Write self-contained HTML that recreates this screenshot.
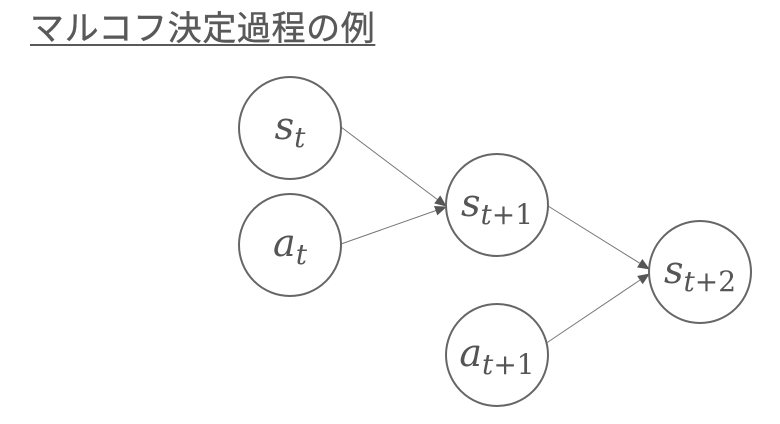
<!DOCTYPE html>
<html><head><meta charset="utf-8"><style>
html,body{margin:0;padding:0;background:#fff;}
body{width:780px;height:424px;overflow:hidden;position:relative;}
.t{position:absolute;left:30px;top:1px;font-family:"Liberation Sans","Noto Sans CJK JP",sans-serif;font-size:34px;color:#595959;text-decoration:underline;text-decoration-thickness:2px;text-underline-offset:4px;letter-spacing:0.6px;white-space:nowrap;-webkit-text-stroke:0.4px #595959;}
svg{position:absolute;left:0;top:0;}
text{font-family:"DejaVu Serif",serif;font-style:italic;fill:#555;text-anchor:middle;}
</style></head><body>
<div class="t">マルコフ決定過程の例</div>
<svg width="780" height="424" viewBox="0 0 780 424">
<defs><marker id="a" markerWidth="12" markerHeight="10" refX="11" refY="5" orient="auto" markerUnits="userSpaceOnUse"><path d="M0,0 L12,5 L0,10 z" fill="#555"/></marker></defs>
<g stroke="#777" stroke-width="1" fill="none">
<line x1="341" y1="127" x2="446" y2="206" marker-end="url(#a)"/>
<line x1="341" y1="244" x2="446" y2="207" marker-end="url(#a)"/>
<line x1="548" y1="206" x2="649" y2="269" marker-end="url(#a)"/>
<line x1="545" y1="344" x2="649" y2="274" marker-end="url(#a)"/>
</g>
<g stroke="#666" stroke-width="2" fill="#fff">
<circle cx="290" cy="128" r="51"/>
<circle cx="290" cy="245" r="51"/>
<circle cx="497" cy="205" r="51"/>
<circle cx="497" cy="355" r="51"/>
<circle cx="700" cy="272" r="51"/>
</g>
<text x="290" y="139" font-size="38">s<tspan font-size="28" dy="8">t</tspan></text>
<text x="290" y="256" font-size="38">a<tspan font-size="28" dy="8">t</tspan></text>
<text x="497" y="216" font-size="38">s<tspan font-size="28" dy="8">t</tspan><tspan font-size="28" font-style="normal">+1</tspan></text>
<text x="497" y="366" font-size="38">a<tspan font-size="28" dy="8">t</tspan><tspan font-size="28" font-style="normal">+1</tspan></text>
<text x="700" y="283" font-size="38">s<tspan font-size="28" dy="8">t</tspan><tspan font-size="28" font-style="normal">+2</tspan></text>
</svg>
</body></html>
